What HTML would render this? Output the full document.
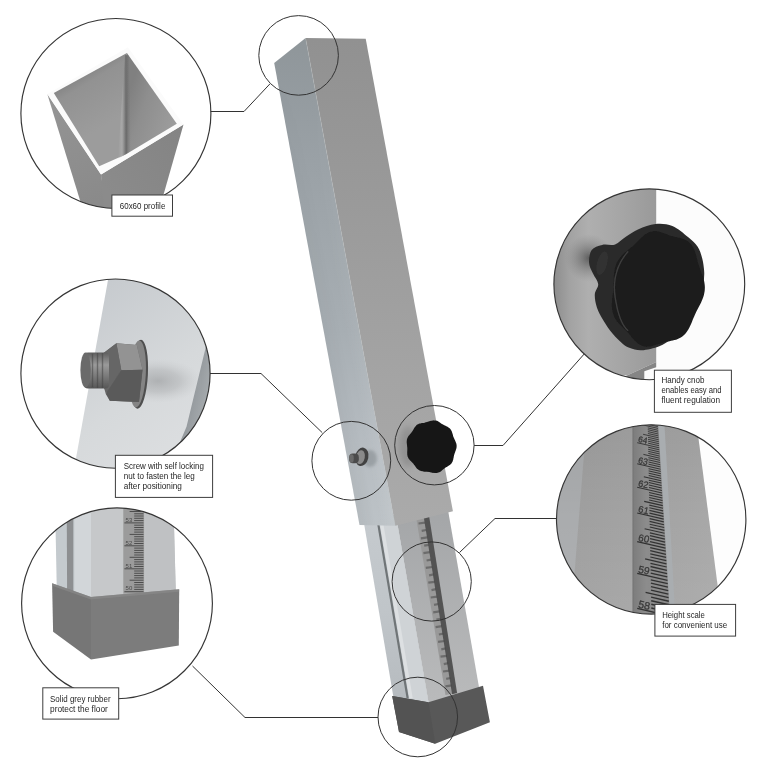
<!DOCTYPE html>
<html><head><meta charset="utf-8"><title>Adjustable leg</title>
<style>
html,body{margin:0;padding:0;background:#fff;}
body{width:768px;height:768px;overflow:hidden;font-family:"Liberation Sans",sans-serif;}
svg{display:block;}
text{font-family:"Liberation Sans",sans-serif;}
</style></head><body>
<svg width="768" height="768" viewBox="0 0 768 768">
<defs>
<linearGradient id="gLeft" gradientUnits="userSpaceOnUse" x1="0" y1="40" x2="0" y2="525">
  <stop offset="0" stop-color="#8f969a"/><stop offset="0.25" stop-color="#9aa1a6"/>
  <stop offset="0.6" stop-color="#a7aeb3"/><stop offset="0.85" stop-color="#b7bdc2"/><stop offset="1" stop-color="#bcc2c6"/>
</linearGradient>
<linearGradient id="gFront" gradientUnits="userSpaceOnUse" x1="0" y1="40" x2="0" y2="525">
  <stop offset="0" stop-color="#919191"/><stop offset="0.3" stop-color="#999999"/>
  <stop offset="0.7" stop-color="#a4a4a4"/><stop offset="1" stop-color="#aaaaaa"/>
</linearGradient>
<linearGradient id="gILeft" gradientUnits="userSpaceOnUse" x1="0" y1="520" x2="0" y2="700">
  <stop offset="0" stop-color="#c5cace"/><stop offset="0.5" stop-color="#c0c5c9"/><stop offset="1" stop-color="#b6bbbf"/>
</linearGradient>
<linearGradient id="gIFront" gradientUnits="userSpaceOnUse" x1="0" y1="510" x2="0" y2="700">
  <stop offset="0" stop-color="#a4a6a8"/><stop offset="1" stop-color="#b9babb"/>
</linearGradient>
<linearGradient id="gLeftX" gradientUnits="userSpaceOnUse" x1="0" y1="0" x2="37" y2="0" gradientTransform="matrix(1 0 0.1846 1 262.59 0)">
 <stop offset="0" stop-color="#000" stop-opacity="0.04"/><stop offset="0.45" stop-color="#000" stop-opacity="0.0"/><stop offset="0.55" stop-color="#fff" stop-opacity="0.0"/><stop offset="1" stop-color="#fff" stop-opacity="0.10"/></linearGradient>
<linearGradient id="gLeftFade" gradientUnits="userSpaceOnUse" x1="0" y1="60" x2="0" y2="520">
 <stop offset="0" stop-color="#fff" stop-opacity="0"/><stop offset="0.4" stop-color="#fff" stop-opacity="0.4"/><stop offset="1" stop-color="#fff" stop-opacity="1"/></linearGradient>
<mask id="mLeft"><rect x="250" y="30" width="200" height="520" fill="url(#gLeftFade)"/></mask><clipPath id="c1"><circle cx="115.9" cy="113.5" r="95.0"/></clipPath><clipPath id="c2"><circle cx="115.5" cy="373.6" r="94.6"/></clipPath><clipPath id="c3"><circle cx="117.0" cy="603.3" r="95.4"/></clipPath><clipPath id="c4"><circle cx="649.3" cy="284.3" r="95.4"/></clipPath><clipPath id="c5"><circle cx="651.2" cy="519.4" r="94.7"/></clipPath>
<linearGradient id="p1a" gradientUnits="userSpaceOnUse" x1="78" y1="66" x2="112" y2="122">
 <stop offset="0" stop-color="#7a7a7a"/><stop offset="0.3" stop-color="#929292"/><stop offset="1" stop-color="#9c9c9c"/></linearGradient>
<linearGradient id="p1b" gradientUnits="userSpaceOnUse" x1="126" y1="100" x2="176" y2="118">
 <stop offset="0" stop-color="#808080"/><stop offset="0.35" stop-color="#8e8e8e"/><stop offset="1" stop-color="#9c9c9c"/></linearGradient>
<linearGradient id="p1c" gradientUnits="userSpaceOnUse" x1="60" y1="110" x2="100" y2="200">
 <stop offset="0" stop-color="#939393"/><stop offset="1" stop-color="#8a8a8a"/></linearGradient>
<linearGradient id="p1d" gradientUnits="userSpaceOnUse" x1="100" y1="180" x2="180" y2="130">
 <stop offset="0" stop-color="#8b8b8b"/><stop offset="1" stop-color="#848484"/></linearGradient>
<linearGradient id="p1cr" gradientUnits="userSpaceOnUse" x1="118" y1="0" x2="131" y2="0">
 <stop offset="0" stop-color="#b0b0b0" stop-opacity="0"/><stop offset="0.3" stop-color="#adadad" stop-opacity="0.7"/><stop offset="0.62" stop-color="#666" stop-opacity="0.95"/><stop offset="1" stop-color="#808080" stop-opacity="0"/></linearGradient>

<linearGradient id="s2a" gradientUnits="userSpaceOnUse" x1="90" y1="290" x2="200" y2="440">
 <stop offset="0" stop-color="#c6cace"/><stop offset="0.6" stop-color="#d6d9db"/><stop offset="1" stop-color="#dcdee0"/></linearGradient>
<radialGradient id="s2sh" gradientUnits="userSpaceOnUse" cx="158" cy="381" r="44" gradientTransform="translate(158 381) scale(1 0.5) translate(-158 -381)">
 <stop offset="0" stop-color="#8e9092" stop-opacity="0.55"/><stop offset="0.5" stop-color="#a0a2a4" stop-opacity="0.38"/><stop offset="1" stop-color="#c0c2c4" stop-opacity="0"/></radialGradient>
<linearGradient id="s2st" gradientUnits="userSpaceOnUse" x1="190" y1="390" x2="212" y2="395">
 <stop offset="0" stop-color="#91969a"/><stop offset="1" stop-color="#a9aeb1"/></linearGradient>
<linearGradient id="s2th" gradientUnits="userSpaceOnUse" x1="0" y1="352" x2="0" y2="389">
 <stop offset="0" stop-color="#5c5c5c"/><stop offset="0.35" stop-color="#9a9a9a"/><stop offset="1" stop-color="#555"/></linearGradient>

<linearGradient id="k4" gradientUnits="userSpaceOnUse" x1="553" y1="0" x2="657" y2="0">
 <stop offset="0" stop-color="#8c8c8c"/><stop offset="0.16" stop-color="#a2a2a2"/><stop offset="0.34" stop-color="#afafaf"/>
 <stop offset="0.7" stop-color="#a4a4a4"/><stop offset="1" stop-color="#999999"/></linearGradient>
<radialGradient id="k4sh" gradientUnits="userSpaceOnUse" cx="589" cy="258" r="24">
 <stop offset="0" stop-color="#4a4a4a" stop-opacity="0.8"/><stop offset="1" stop-color="#808080" stop-opacity="0"/></radialGradient>

<linearGradient id="s5" gradientUnits="userSpaceOnUse" x1="556" y1="0" x2="720" y2="0">
 <stop offset="0" stop-color="#9e9e9e"/><stop offset="0.45" stop-color="#a3a3a3"/><stop offset="0.75" stop-color="#a5a5a5"/><stop offset="1" stop-color="#a9a9a9"/></linearGradient>
<linearGradient id="s5v" gradientUnits="userSpaceOnUse" x1="0" y1="424" x2="0" y2="614">
 <stop offset="0" stop-color="#000" stop-opacity="0.05"/><stop offset="0.5" stop-color="#000" stop-opacity="0"/><stop offset="0.5" stop-color="#fff" stop-opacity="0"/><stop offset="1" stop-color="#fff" stop-opacity="0.06"/></linearGradient>
<linearGradient id="s5s" gradientUnits="userSpaceOnUse" x1="632" y1="0" x2="668" y2="0">
 <stop offset="0" stop-color="#6c6c6c"/><stop offset="0.06" stop-color="#7e7e7e"/><stop offset="0.4" stop-color="#8c8c8c"/><stop offset="1" stop-color="#8a8a8a"/></linearGradient>
<filter id="b2" x="-50%" y="-50%" width="200%" height="200%"><feGaussianBlur stdDeviation="1.6"/></filter>
<filter id="b3" x="-50%" y="-50%" width="200%" height="200%"><feGaussianBlur stdDeviation="3"/></filter>
<filter id="soft" x="-2%" y="-2%" width="104%" height="104%"><feGaussianBlur stdDeviation="0.45"/></filter>
</defs>
<rect width="768" height="768" fill="#ffffff"/>
<g filter="url(#soft)">
<polygon points="362.6,515.0 395.9,515.0 428.6,703.0 393.4,697.0" fill="url(#gILeft)"/>
<polygon points="394.1,505.0 447.1,505.0 479.5,690.0 428.6,703.0" fill="url(#gIFront)"/>
<polygon points="378.9,520.0 396.7,520.0 428.6,703.0 409.1,699.0" fill="#cfd3d6"/>
<polygon points="379.3,520.0 382.7,520.0 412.7,698.0 409.3,698.0" fill="#dde0e2"/>
<polygon points="376.5,520.0 378.7,520.0 408.7,698.0 406.5,698.0" fill="#6f7477"/>
<polygon points="415.7,515.0 428.2,513.0 456.5,693.0 445.5,695.0" fill="#999"/>
<path d="M418.5,523.5L425.0,522.6M421.7,530.9L426.2,530.0M420.9,538.3L427.4,537.4M424.2,545.7L428.7,544.8M423.4,553.1L429.9,552.2M426.6,560.5L431.1,559.6M425.8,567.9L432.3,567.0M429.1,575.3L433.6,574.4M428.3,582.7L434.8,581.8M431.5,590.1L436.0,589.2M430.7,597.5L437.2,596.6M434.0,604.9L438.5,604.0M433.2,612.3L439.7,611.4M436.4,619.7L440.9,618.8M435.6,627.1L442.1,626.2M438.9,634.5L443.4,633.6M438.1,641.9L444.6,641.0M441.3,649.3L445.8,648.4M440.5,656.7L447.0,655.8M443.8,664.1L448.3,663.2M443.0,671.5L449.5,670.6M446.2,678.9L450.7,678.0M445.4,686.3L451.9,685.4" stroke="#5e5e5e" stroke-width="2.2" fill="none" opacity="0.75"/>
<polygon points="423.3,514.2 428.6,513.0 457.1,693.0 452.1,694.2" fill="#474747" opacity="0.85"/>
<polygon points="274.2,62.9 305.6,38.0 395.3,525.8 359.5,524.9" fill="url(#gLeft)"/>
<polygon points="305.6,38.0 365.7,38.8 452.9,511.3 395.3,525.8" fill="url(#gFront)"/>
<polygon points="274.2,62.9 305.6,38.0 395.3,525.8 359.5,524.9" fill="url(#gLeftX)" mask="url(#mLeft)"/>
<line x1="305.6" y1="38" x2="395.3" y2="525.8" stroke="#b4babd" stroke-width="0.8" opacity="0.35"/>
<polygon points="392.2,696.0 428.4,702.2 483.0,685.8 489.9,722.3 435.2,743.8 399.0,732.0" fill="#585858"/>
<polygon points="392.2,696.0 428.4,702.2 435.2,743.8 399.0,732.0" fill="#525252"/>
<ellipse cx="408" cy="447" rx="9" ry="20" fill="#777" opacity="0.45" filter="url(#b3)"/>
<polygon points="454.4,446.9 454.3,447.8 454.1,448.7 453.8,449.6 453.5,450.5 453.2,451.3 452.9,452.1 452.5,452.9 452.3,453.8 452.0,454.6 451.8,455.4 451.6,456.3 451.4,457.2 451.3,458.1 451.1,458.9 450.9,459.8 450.6,460.7 450.2,461.6 449.8,462.4 449.3,463.1 448.7,463.8 448.1,464.4 447.4,464.9 446.7,465.4 446.0,465.9 445.2,466.3 444.5,466.7 443.7,467.1 443.0,467.5 442.4,468.0 441.7,468.5 441.0,469.0 440.4,469.6 439.7,470.1 439.1,470.7 438.4,471.2 437.6,471.7 436.9,472.1 436.1,472.4 435.2,472.6 434.4,472.8 433.6,472.8 432.7,472.7 431.9,472.6 431.0,472.4 430.2,472.2 429.4,472.0 428.6,471.8 427.8,471.7 427.0,471.5 426.2,471.5 425.4,471.4 424.6,471.4 423.7,471.4 422.9,471.3 422.0,471.2 421.2,471.1 420.4,470.8 419.6,470.5 418.8,470.1 418.1,469.6 417.4,469.1 416.8,468.4 416.2,467.7 415.7,467.0 415.2,466.3 414.7,465.6 414.2,464.9 413.7,464.2 413.2,463.6 412.6,462.9 412.0,462.3 411.4,461.7 410.8,461.1 410.1,460.5 409.5,459.8 409.0,459.1 408.5,458.4 408.1,457.6 407.7,456.8 407.5,455.9 407.3,455.0 407.2,454.1 407.2,453.1 407.2,452.2 407.2,451.3 407.3,450.4 407.3,449.5 407.3,448.6 407.3,447.8 407.2,446.9 407.1,446.0 407.0,445.1 406.9,444.2 406.8,443.3 406.7,442.4 406.7,441.5 406.8,440.6 406.9,439.7 407.1,438.8 407.5,437.9 407.9,437.1 408.3,436.3 408.9,435.6 409.4,434.9 410.0,434.2 410.6,433.6 411.1,432.9 411.6,432.3 412.1,431.6 412.6,430.9 413.0,430.1 413.5,429.4 413.9,428.6 414.4,427.8 414.9,427.1 415.4,426.4 416.0,425.7 416.6,425.1 417.3,424.6 418.1,424.2 418.9,423.8 419.7,423.6 420.5,423.4 421.4,423.2 422.2,423.1 423.0,423.0 423.9,422.9 424.6,422.7 425.4,422.6 426.2,422.3 427.0,422.1 427.8,421.8 428.6,421.5 429.4,421.3 430.2,421.0 431.0,420.8 431.9,420.7 432.7,420.7 433.6,420.8 434.4,421.0 435.2,421.3 436.0,421.7 436.7,422.1 437.5,422.6 438.2,423.1 438.9,423.6 439.6,424.1 440.3,424.5 441.0,424.9 441.7,425.3 442.4,425.6 443.2,426.0 444.0,426.3 444.8,426.7 445.5,427.1 446.3,427.5 447.0,428.0 447.6,428.6 448.2,429.3 448.7,430.0 449.2,430.8 449.6,431.6 449.9,432.5 450.2,433.4 450.4,434.2 450.7,435.1 450.9,435.9 451.2,436.8 451.5,437.6 451.8,438.4 452.2,439.2 452.6,439.9 453.0,440.7 453.3,441.6 453.7,442.4 454.0,443.3 454.2,444.2 454.4,445.1 454.4,446.0" fill="#181818"/>
<polygon points="456.6,446.9 456.5,447.8 456.3,448.7 456.0,449.6 455.7,450.5 455.4,451.3 455.1,452.2 454.8,453.0 454.5,453.8 454.2,454.7 454.0,455.5 453.8,456.4 453.7,457.2 453.5,458.1 453.3,459.0 453.1,459.9 452.8,460.8 452.5,461.7 452.0,462.5 451.6,463.2 451.0,463.9 450.4,464.5 449.7,465.1 449.0,465.6 448.2,466.0 447.5,466.4 446.7,466.9 446.0,467.3 445.3,467.7 444.7,468.2 444.0,468.7 443.4,469.2 442.7,469.8 442.1,470.3 441.4,470.9 440.7,471.4 440.0,471.9 439.2,472.3 438.4,472.6 437.6,472.8 436.8,473.0 435.9,473.0 435.1,472.9 434.2,472.8 433.4,472.6 432.6,472.4 431.8,472.2 431.0,472.0 430.2,471.9 429.4,471.7 428.6,471.7 427.8,471.6 427.0,471.6 426.2,471.5 425.4,471.5 424.5,471.4 423.7,471.3 422.9,471.0 422.1,470.7 421.3,470.3 420.6,469.8 419.9,469.2 419.3,468.6 418.8,467.9 418.2,467.2 417.7,466.4 417.2,465.7 416.7,465.0 416.2,464.3 415.7,463.7 415.1,463.1 414.6,462.4 413.9,461.8 413.3,461.2 412.7,460.6 412.1,459.9 411.6,459.2 411.1,458.5 410.6,457.7 410.3,456.8 410.0,456.0 409.9,455.0 409.8,454.1 409.8,453.2 409.8,452.3 409.8,451.3 409.9,450.4 409.9,449.5 409.9,448.7 409.9,447.8 409.8,446.9 409.7,446.0 409.6,445.1 409.5,444.2 409.4,443.3 409.3,442.4 409.3,441.4 409.4,440.5 409.5,439.6 409.7,438.7 410.0,437.8 410.4,437.0 410.9,436.3 411.4,435.5 412.0,434.8 412.6,434.1 413.1,433.5 413.7,432.8 414.2,432.1 414.7,431.5 415.1,430.7 415.6,430.0 416.0,429.2 416.4,428.5 416.9,427.7 417.4,426.9 417.9,426.2 418.5,425.5 419.2,424.9 419.9,424.4 420.6,424.0 421.4,423.6 422.2,423.4 423.0,423.2 423.9,423.0 424.7,422.9 425.5,422.8 426.3,422.7 427.1,422.5 427.9,422.4 428.6,422.1 429.4,421.9 430.2,421.6 431.0,421.3 431.8,421.1 432.6,420.8 433.4,420.6 434.3,420.5 435.1,420.5 435.9,420.6 436.8,420.8 437.6,421.1 438.3,421.5 439.1,421.9 439.8,422.4 440.5,422.9 441.2,423.4 441.9,423.9 442.6,424.3 443.3,424.8 444.0,425.1 444.7,425.5 445.5,425.8 446.3,426.2 447.0,426.5 447.8,426.9 448.5,427.4 449.2,427.9 449.9,428.5 450.5,429.2 451.0,429.9 451.4,430.7 451.8,431.5 452.1,432.4 452.4,433.3 452.6,434.1 452.9,435.0 453.1,435.9 453.4,436.7 453.7,437.5 454.0,438.3 454.4,439.1 454.8,439.9 455.2,440.7 455.5,441.5 455.9,442.4 456.2,443.2 456.4,444.1 456.6,445.1 456.6,446.0" fill="#161616"/>
<ellipse cx="370" cy="458.5" rx="7" ry="8.5" fill="#82888c" opacity="0.55" filter="url(#b2)"/>
<ellipse cx="361.8" cy="456.8" rx="6.6" ry="9.3" fill="#424242" transform="rotate(12 361.8 456.8)"/>
<ellipse cx="360.4" cy="457.2" rx="4.4" ry="7.0" fill="#8a8a8a" transform="rotate(12 360.4 457.2)"/>
<rect x="349.2" y="453.6" width="9.6" height="9.6" rx="3.6" fill="#4b4b4b"/>
<ellipse cx="351.6" cy="458.4" rx="2.2" ry="4.2" fill="#6a6a6a"/>
<g clip-path="url(#c1)">
<polygon points="47.3,94.0 101.0,174.6 107.4,216.8 85.1,216.8" fill="url(#p1c)"/>
<polygon points="101.0,174.6 183.5,124.5 157.3,216.5 104.5,216.8" fill="url(#p1d)"/>
<polygon points="127.9,47.2 47.3,94.0 101.0,174.6 183.5,124.5" fill="#fbfbfb"/>
<polygon points="126.9,53.0 53.8,92.9 99.2,166.2 125.6,154.6" fill="url(#p1a)"/>
<polygon points="126.9,53.0 125.6,154.6 176.8,123.7" fill="url(#p1b)"/>
<polygon points="124.9,55.0 128.9,55.5 131.5,150.8 118.0,158.8" fill="url(#p1cr)"/>
</g>
<g clip-path="url(#c2)">
<polygon points="108.9,275.0 230.0,275.0 230.0,475.0 73.0,475.0" fill="url(#s2a)"/>
<polygon points="207.5,338.0 230.0,338.0 230.0,475.0 166.0,475.0 176.0,451.6 186.5,426.7 205.2,349.6" fill="url(#s2st)"/>
<ellipse cx="160" cy="381" rx="46" ry="24" fill="url(#s2sh)"/>
<ellipse cx="139.3" cy="374.3" rx="8.6" ry="34.5" fill="#4f4f4f" transform="rotate(3 139.3 374.3)"/>
<ellipse cx="137.6" cy="374.0" rx="8.2" ry="33.5" fill="#848484" transform="rotate(3 137.6 374.0)"/>
<polygon points="102.0,354.3 116.4,343.2 136.8,345.0 142.5,369.8 139.0,401.9 109.8,400.7 103.1,385.3" fill="#5f5f5f"/>
<polygon points="116.4,343.2 136.8,345.0 142.5,369.8 121.3,370.2" fill="#939393"/>
<polygon points="102.0,354.3 116.4,343.2 121.3,370.2 105.8,394.1 102.7,383.0" fill="#666"/>
<polygon points="105.8,394.1 121.3,370.2 142.5,369.8 139.0,401.9 109.8,400.7" fill="#5a5a5a"/>
<rect x="84" y="352.5" width="25" height="36" rx="4" fill="url(#s2th)"/>
<ellipse cx="85.6" cy="370" rx="5.2" ry="17.6" fill="#6b6b6b"/>
<path d="M92.5,353.5v34M97.5,353v35M102.5,353v35" stroke="#444" stroke-width="1.4" opacity="0.55"/>
</g>
<g clip-path="url(#c3)">
<polygon points="55.0,500.0 91.0,500.0 91.0,597.9 56.7,585.4" fill="#c4cace"/>
<polygon points="74.4,500.0 91.0,500.0 91.0,597.9 74.4,591.7" fill="#d2d6d9"/>
<polygon points="66.7,500.0 73.3,500.0 73.3,591.7 67.1,589.2" fill="#8d8f91"/>
<polygon points="91.0,500.0 173.3,500.0 175.8,591.7 91.0,597.9" fill="#c6c8ca"/>
<polygon points="145.2,500.0 173.3,500.0 175.8,591.7 145.2,592.7" fill="#bfc1c3"/>
<polygon points="123.3,500.0 144.2,500.0 144.2,592.7 123.3,593.8" fill="#9b9b9b"/>
<path d="M124.4,500.0L143.5,500.0M134.2,502.3L143.5,502.3M134.2,504.6L143.5,504.6M134.2,506.9L143.5,506.9M134.2,509.2L143.5,509.2M129.6,511.5L143.5,511.5M134.2,513.8L143.5,513.8M134.2,516.0L143.5,516.0M134.2,518.3L143.5,518.3M134.2,520.6L143.5,520.6M124.4,522.9L143.5,522.9M134.2,525.2L143.5,525.2M134.2,527.5L143.5,527.5M134.2,529.8L143.5,529.8M134.2,532.1L143.5,532.1M129.6,534.4L143.5,534.4M134.2,536.7L143.5,536.7M134.2,539.0L143.5,539.0M134.2,541.2L143.5,541.2M134.2,543.5L143.5,543.5M124.4,545.8L143.5,545.8M134.2,548.1L143.5,548.1M134.2,550.4L143.5,550.4M134.2,552.7L143.5,552.7M134.2,555.0L143.5,555.0M129.6,557.3L143.5,557.3M134.2,559.6L143.5,559.6M134.2,561.9L143.5,561.9M134.2,564.2L143.5,564.2M134.2,566.5L143.5,566.5M124.4,568.8L143.5,568.8M134.2,571.0L143.5,571.0M134.2,573.3L143.5,573.3M134.2,575.6L143.5,575.6M134.2,577.9L143.5,577.9M129.6,580.2L143.5,580.2M134.2,582.5L143.5,582.5M134.2,584.8L143.5,584.8M134.2,587.1L143.5,587.1M134.2,589.4L143.5,589.4M124.4,591.7L143.5,591.7" stroke="#3a3a3a" stroke-width="1" opacity="0.8"/>
<text x="125.6" y="521.7" font-size="6" fill="#3a3a3a" opacity="0.85">53</text>
<text x="125.6" y="544.6" font-size="6" fill="#3a3a3a" opacity="0.85">52</text>
<text x="125.6" y="567.5" font-size="6" fill="#3a3a3a" opacity="0.85">51</text>
<text x="125.6" y="590.4" font-size="6" fill="#3a3a3a" opacity="0.85">50</text>
<polygon points="52.1,583.3 91.0,596.9 91.0,659.4 53.1,631.7" fill="#767676"/>
<polygon points="91.0,596.9 179.2,589.2 178.8,645.4 91.0,659.4" fill="#7b7b7b"/>
<polygon points="52.1,583.3 91.0,596.9 179.2,589.2 179.2,591.7 91.0,599.6 52.1,585.8" fill="#8c8c8c" opacity="0.6"/>
</g>
<g clip-path="url(#c4)">
<rect x="550" y="185" width="200" height="200" fill="#fcfcfc"/>
<polygon points="550.0,185.0 656.2,185.0 656.2,362.1 628.1,375.1 550.0,382.9" fill="url(#k4)"/>
<polygon points="628.1,375.1 656.2,362.1 656.2,367.3 644.3,371.2 644.3,385.0 602.1,385.0" fill="#858585"/>
<circle cx="589" cy="258" r="24" fill="url(#k4sh)"/>
<path d="M655.5,224.1C661.1,223.5 667.0,224.0 672.4,226.1C677.8,228.3 683.8,233.7 688.0,237.1C692.2,240.5 695.1,242.9 697.5,246.5C699.9,250.1 701.2,254.4 702.3,258.7C703.4,262.9 704.0,268.0 704.2,272.0C704.4,276.0 704.0,279.3 703.4,282.5C702.8,285.7 701.7,287.3 700.3,291.1C698.9,294.9 696.8,300.9 695.0,305.2C693.2,309.5 692.0,313.0 689.8,316.9C687.6,320.8 684.7,324.9 681.6,328.6C678.5,332.3 674.7,336.3 671.0,339.2C667.3,342.1 664.2,344.3 659.3,346.2C654.4,348.1 646.6,350.0 641.7,350.3C636.8,350.6 633.1,349.1 630.0,348.0C626.9,346.9 625.8,346.3 622.9,343.9C620.0,341.4 615.8,337.3 612.5,333.4C609.2,329.5 606.0,324.8 603.4,320.4C600.8,316.1 598.3,311.7 596.9,307.4C595.4,303.1 594.6,298.3 594.8,294.4C595.0,290.5 598.5,287.4 598.2,284.0C597.9,280.5 594.5,277.0 593.0,273.5C591.4,270.1 589.3,267.0 589.1,263.1C588.8,259.2 589.5,253.1 591.7,250.1C593.8,247.1 598.2,245.9 602.1,244.9C606.0,243.9 611.2,245.7 615.1,244.4C619.0,243.1 621.6,239.6 625.5,237.1C629.4,234.6 633.6,231.4 638.5,229.3C643.5,227.1 649.8,224.6 655.5,224.1Z" fill="#2a2a2a"/>
<polygon points="704.0,289.0 703.6,291.0 703.2,293.0 702.7,294.9 702.1,296.8 701.5,298.7 700.9,300.6 700.3,302.4 699.8,304.2 699.3,306.0 698.8,307.8 698.4,309.7 697.9,311.6 697.5,313.5 697.1,315.4 696.7,317.4 696.2,319.3 695.7,321.2 695.0,323.2 694.3,325.0 693.4,326.8 692.5,328.4 691.4,330.0 690.2,331.4 688.9,332.7 687.5,333.8 686.1,334.8 684.6,335.7 683.0,336.4 681.5,337.1 680.0,337.7 678.4,338.3 676.9,338.9 675.4,339.4 674.0,340.0 672.5,340.7 671.1,341.4 669.7,342.1 668.2,342.9 666.8,343.7 665.3,344.5 663.8,345.3 662.3,346.0 660.7,346.7 659.1,347.2 657.5,347.6 655.9,347.8 654.2,347.8 652.6,347.7 651.0,347.3 649.4,346.8 647.8,346.1 646.3,345.3 644.8,344.3 643.4,343.3 642.0,342.2 640.7,341.1 639.4,339.9 638.1,338.8 636.8,337.7 635.5,336.7 634.2,335.7 632.9,334.7 631.5,333.8 630.1,332.9 628.7,331.9 627.3,331.0 625.9,330.0 624.5,328.9 623.1,327.8 621.8,326.5 620.6,325.1 619.5,323.6 618.5,322.0 617.6,320.3 616.8,318.4 616.2,316.5 615.7,314.6 615.3,312.5 615.0,310.5 614.8,308.5 614.6,306.4 614.5,304.4 614.4,302.5 614.3,300.5 614.2,298.6 614.0,296.7 613.8,294.8 613.6,292.8 613.3,290.9 613.0,289.0 612.7,287.0 612.4,285.0 612.2,283.0 612.0,281.0 611.9,278.9 611.9,276.9 612.0,274.8 612.3,272.8 612.7,270.8 613.3,268.8 614.0,267.0 614.8,265.2 615.8,263.5 616.8,261.9 617.9,260.4 619.0,258.9 620.2,257.5 621.4,256.1 622.6,254.8 623.7,253.5 624.8,252.2 625.9,250.8 627.0,249.4 628.0,248.0 629.0,246.5 630.0,245.0 631.1,243.4 632.2,241.9 633.3,240.4 634.5,239.0 635.7,237.6 637.0,236.4 638.4,235.3 639.9,234.3 641.4,233.6 643.0,233.0 644.6,232.5 646.2,232.3 647.9,232.2 649.5,232.2 651.2,232.4 652.8,232.6 654.4,232.9 655.9,233.3 657.5,233.6 659.0,233.8 660.6,234.1 662.1,234.3 663.6,234.4 665.2,234.5 666.7,234.6 668.3,234.7 669.9,234.8 671.5,234.9 673.2,235.1 674.8,235.4 676.4,235.8 678.0,236.3 679.6,237.0 681.0,237.9 682.5,239.0 683.8,240.2 685.0,241.5 686.2,243.0 687.2,244.6 688.2,246.3 689.1,248.0 690.0,249.7 690.8,251.5 691.5,253.2 692.3,254.9 693.1,256.6 693.9,258.2 694.7,259.8 695.6,261.4 696.5,263.0 697.5,264.6 698.4,266.2 699.4,267.8 700.3,269.5 701.2,271.2 702.0,273.0 702.7,274.9 703.3,276.8 703.8,278.8 704.1,280.8 704.3,282.8 704.3,284.9 704.2,287.0" fill="#1d1d1d" transform="rotate(10 657.5 289)"/>
<path d="M628.1,251.4 Q611.2,270.9 615.1,297.0 T628.1,330.8" fill="none" stroke="#474747" stroke-width="1.4" opacity="0.8"/>
<ellipse cx="602.1" cy="263.1" rx="5" ry="12" fill="#343434" opacity="0.8" transform="rotate(15 602.1 263.1)"/>
</g>
<g clip-path="url(#c5)">
<rect x="550" y="420" width="200" height="200" fill="#fdfdfd"/>
<polygon points="550.0,420.0 696.1,420.0 722.1,620.0 550.0,620.0" fill="url(#s5)"/>
<polygon points="550.0,420.0 586.7,420.0 570.8,620.0 550.0,620.0" fill="#aaacae"/>
<polygon points="550.0,420.0 696.1,420.0 722.1,620.0 550.0,620.0" fill="url(#s5v)"/>
<polygon points="632.5,420.0 660.5,420.0 672.5,620.0 632.5,620.0" fill="url(#s5s)"/>
<polygon points="658.0,420.0 664.2,420.0 675.5,620.0 670.3,620.0" fill="#a9adb0"/>
<path d="M647.7,422.5L657.7,424.8" stroke="#2b2b2b" stroke-width="0.84" opacity="0.92"/>
<path d="M647.7,424.3L657.8,426.6" stroke="#2b2b2b" stroke-width="0.84" opacity="0.92"/>
<path d="M637.2,423.6L658.0,428.4" stroke="#2b2b2b" stroke-width="0.85" opacity="0.92"/>
<path d="M647.8,427.9L658.1,430.3" stroke="#2b2b2b" stroke-width="0.85" opacity="0.92"/>
<path d="M647.8,429.7L658.2,432.1" stroke="#2b2b2b" stroke-width="0.86" opacity="0.92"/>
<path d="M647.9,431.6L658.3,434.0" stroke="#2b2b2b" stroke-width="0.87" opacity="0.92"/>
<path d="M647.9,433.5L658.4,435.9" stroke="#2b2b2b" stroke-width="0.87" opacity="0.92"/>
<path d="M643.1,434.3L658.5,437.8" stroke="#2b2b2b" stroke-width="0.88" opacity="0.92"/>
<path d="M648.0,437.3L658.7,439.8" stroke="#2b2b2b" stroke-width="0.88" opacity="0.92"/>
<path d="M648.0,439.3L658.8,441.7" stroke="#2b2b2b" stroke-width="0.89" opacity="0.92"/>
<path d="M648.1,441.2L658.9,443.7" stroke="#2b2b2b" stroke-width="0.90" opacity="0.92"/>
<path d="M648.1,443.2L659.0,445.7" stroke="#2b2b2b" stroke-width="0.90" opacity="0.92"/>
<path d="M637.2,442.7L659.2,447.8" stroke="#2b2b2b" stroke-width="0.91" opacity="0.92"/>
<path d="M648.2,447.2L659.3,449.8" stroke="#2b2b2b" stroke-width="0.92" opacity="0.92"/>
<path d="M648.2,449.3L659.4,451.9" stroke="#2b2b2b" stroke-width="0.92" opacity="0.92"/>
<path d="M648.3,451.4L659.6,453.9" stroke="#2b2b2b" stroke-width="0.93" opacity="0.92"/>
<path d="M648.3,453.4L659.7,456.1" stroke="#2b2b2b" stroke-width="0.93" opacity="0.92"/>
<path d="M643.4,454.4L659.8,458.2" stroke="#2b2b2b" stroke-width="0.94" opacity="0.92"/>
<path d="M648.4,457.7L660.0,460.3" stroke="#2b2b2b" stroke-width="0.95" opacity="0.92"/>
<path d="M648.4,459.8L660.1,462.5" stroke="#2b2b2b" stroke-width="0.95" opacity="0.92"/>
<path d="M648.5,462.0L660.2,464.7" stroke="#2b2b2b" stroke-width="0.96" opacity="0.92"/>
<path d="M648.5,464.2L660.4,466.9" stroke="#2b2b2b" stroke-width="0.97" opacity="0.92"/>
<path d="M637.2,463.8L660.5,469.2" stroke="#2b2b2b" stroke-width="0.98" opacity="0.92"/>
<path d="M648.6,468.7L660.7,471.4" stroke="#2b2b2b" stroke-width="0.98" opacity="0.92"/>
<path d="M648.7,470.9L660.8,473.7" stroke="#2b2b2b" stroke-width="0.99" opacity="0.92"/>
<path d="M648.7,473.2L660.9,476.0" stroke="#2b2b2b" stroke-width="1.00" opacity="0.92"/>
<path d="M648.7,475.5L661.1,478.4" stroke="#2b2b2b" stroke-width="1.00" opacity="0.92"/>
<path d="M643.8,476.7L661.2,480.7" stroke="#2b2b2b" stroke-width="1.01" opacity="0.92"/>
<path d="M648.8,480.2L661.4,483.1" stroke="#2b2b2b" stroke-width="1.02" opacity="0.92"/>
<path d="M648.9,482.6L661.5,485.5" stroke="#2b2b2b" stroke-width="1.03" opacity="0.92"/>
<path d="M648.9,485.0L661.7,487.9" stroke="#2b2b2b" stroke-width="1.03" opacity="0.92"/>
<path d="M649.0,487.4L661.9,490.4" stroke="#2b2b2b" stroke-width="1.04" opacity="0.92"/>
<path d="M637.2,487.2L662.0,492.9" stroke="#2b2b2b" stroke-width="1.05" opacity="0.92"/>
<path d="M649.1,492.4L662.2,495.4" stroke="#2b2b2b" stroke-width="1.06" opacity="0.92"/>
<path d="M649.1,494.9L662.3,497.9" stroke="#2b2b2b" stroke-width="1.07" opacity="0.92"/>
<path d="M649.2,497.4L662.5,500.5" stroke="#2b2b2b" stroke-width="1.07" opacity="0.92"/>
<path d="M649.2,500.0L662.6,503.0" stroke="#2b2b2b" stroke-width="1.08" opacity="0.92"/>
<path d="M644.2,501.4L662.8,505.6" stroke="#2b2b2b" stroke-width="1.09" opacity="0.92"/>
<path d="M649.3,505.1L663.0,508.3" stroke="#2b2b2b" stroke-width="1.10" opacity="0.92"/>
<path d="M649.4,507.8L663.1,510.9" stroke="#2b2b2b" stroke-width="1.11" opacity="0.92"/>
<path d="M649.4,510.4L663.3,513.6" stroke="#2b2b2b" stroke-width="1.11" opacity="0.92"/>
<path d="M649.5,513.1L663.5,516.4" stroke="#2b2b2b" stroke-width="1.12" opacity="0.92"/>
<path d="M637.2,513.0L663.7,519.1" stroke="#2b2b2b" stroke-width="1.13" opacity="0.92"/>
<path d="M649.6,518.6L663.8,521.9" stroke="#2b2b2b" stroke-width="1.14" opacity="0.92"/>
<path d="M649.6,521.4L664.0,524.7" stroke="#2b2b2b" stroke-width="1.15" opacity="0.92"/>
<path d="M649.7,524.2L664.2,527.5" stroke="#2b2b2b" stroke-width="1.16" opacity="0.92"/>
<path d="M649.8,527.0L664.4,530.4" stroke="#2b2b2b" stroke-width="1.17" opacity="0.92"/>
<path d="M644.6,528.7L664.5,533.3" stroke="#2b2b2b" stroke-width="1.18" opacity="0.92"/>
<path d="M649.9,532.8L664.7,536.2" stroke="#2b2b2b" stroke-width="1.18" opacity="0.92"/>
<path d="M649.9,535.7L664.9,539.1" stroke="#2b2b2b" stroke-width="1.19" opacity="0.92"/>
<path d="M650.0,538.6L665.1,542.1" stroke="#2b2b2b" stroke-width="1.20" opacity="0.92"/>
<path d="M650.0,541.6L665.3,545.1" stroke="#2b2b2b" stroke-width="1.21" opacity="0.92"/>
<path d="M637.2,541.6L665.5,548.1" stroke="#2b2b2b" stroke-width="1.22" opacity="0.92"/>
<path d="M650.2,547.6L665.7,551.2" stroke="#2b2b2b" stroke-width="1.23" opacity="0.92"/>
<path d="M650.2,550.7L665.9,554.3" stroke="#2b2b2b" stroke-width="1.24" opacity="0.92"/>
<path d="M650.3,553.8L666.1,557.4" stroke="#2b2b2b" stroke-width="1.25" opacity="0.92"/>
<path d="M650.3,557.0L666.3,560.6" stroke="#2b2b2b" stroke-width="1.26" opacity="0.92"/>
<path d="M645.1,558.9L666.5,563.8" stroke="#2b2b2b" stroke-width="1.27" opacity="0.92"/>
<path d="M650.5,563.3L666.7,567.0" stroke="#2b2b2b" stroke-width="1.28" opacity="0.92"/>
<path d="M650.5,566.5L666.9,570.3" stroke="#2b2b2b" stroke-width="1.29" opacity="0.92"/>
<path d="M650.6,569.8L667.1,573.6" stroke="#2b2b2b" stroke-width="1.30" opacity="0.92"/>
<path d="M650.7,573.1L667.3,576.9" stroke="#2b2b2b" stroke-width="1.31" opacity="0.92"/>
<path d="M637.2,573.3L667.5,580.3" stroke="#2b2b2b" stroke-width="1.32" opacity="0.92"/>
<path d="M650.8,579.8L667.7,583.7" stroke="#2b2b2b" stroke-width="1.33" opacity="0.92"/>
<path d="M650.9,583.2L667.9,587.1" stroke="#2b2b2b" stroke-width="1.34" opacity="0.92"/>
<path d="M650.9,586.6L668.2,590.6" stroke="#2b2b2b" stroke-width="1.35" opacity="0.92"/>
<path d="M651.0,590.1L668.4,594.1" stroke="#2b2b2b" stroke-width="1.36" opacity="0.92"/>
<path d="M645.6,592.4L668.6,597.6" stroke="#2b2b2b" stroke-width="1.38" opacity="0.92"/>
<path d="M651.1,597.1L668.8,601.2" stroke="#2b2b2b" stroke-width="1.39" opacity="0.92"/>
<path d="M651.2,600.7L669.0,604.8" stroke="#2b2b2b" stroke-width="1.40" opacity="0.92"/>
<path d="M651.3,604.3L669.3,608.5" stroke="#2b2b2b" stroke-width="1.41" opacity="0.92"/>
<path d="M651.3,608.0L669.5,612.2" stroke="#2b2b2b" stroke-width="1.42" opacity="0.92"/>
<path d="M637.2,608.4L669.7,615.9" stroke="#2b2b2b" stroke-width="1.43" opacity="0.92"/>
<path d="M651.5,615.4L670.0,619.6" stroke="#2b2b2b" stroke-width="1.44" opacity="0.92"/>
<path d="M651.6,619.2L670.2,623.4" stroke="#2b2b2b" stroke-width="1.46" opacity="0.92"/>
<path d="M651.6,623.0L670.5,627.3" stroke="#2b2b2b" stroke-width="1.47" opacity="0.92"/>
<text x="637.8" y="441.8" font-size="8.3" fill="#2e2e2e" stroke="#2e2e2e" stroke-width="0.25" opacity="0.9" transform="rotate(12 637.8 441.8)">64</text>
<text x="637.8" y="462.9" font-size="8.7" fill="#2e2e2e" stroke="#2e2e2e" stroke-width="0.25" opacity="0.9" transform="rotate(12 637.8 462.9)">63</text>
<text x="637.8" y="486.3" font-size="9.1" fill="#2e2e2e" stroke="#2e2e2e" stroke-width="0.25" opacity="0.9" transform="rotate(12 637.8 486.3)">62</text>
<text x="637.8" y="512.1" font-size="9.4" fill="#2e2e2e" stroke="#2e2e2e" stroke-width="0.25" opacity="0.9" transform="rotate(12 637.8 512.1)">61</text>
<text x="637.8" y="540.7" font-size="9.8" fill="#2e2e2e" stroke="#2e2e2e" stroke-width="0.25" opacity="0.9" transform="rotate(12 637.8 540.7)">60</text>
<text x="637.8" y="572.4" font-size="10.2" fill="#2e2e2e" stroke="#2e2e2e" stroke-width="0.25" opacity="0.9" transform="rotate(12 637.8 572.4)">59</text>
<text x="637.8" y="607.5" font-size="10.6" fill="#2e2e2e" stroke="#2e2e2e" stroke-width="0.25" opacity="0.9" transform="rotate(12 637.8 607.5)">58</text>
</g>
<circle cx="115.9" cy="113.5" r="95.0" fill="none" stroke="#353535" stroke-width="1.15"/>
<circle cx="115.5" cy="373.6" r="94.6" fill="none" stroke="#353535" stroke-width="1.15"/>
<circle cx="117.0" cy="603.3" r="95.4" fill="none" stroke="#353535" stroke-width="1.15"/>
<circle cx="649.3" cy="284.3" r="95.4" fill="none" stroke="#353535" stroke-width="1.15"/>
<circle cx="651.2" cy="519.4" r="94.7" fill="none" stroke="#353535" stroke-width="1.15"/>
<circle cx="298.6" cy="55.4" r="39.8" fill="none" stroke="#333" stroke-width="1"/>
<circle cx="351.3" cy="460.8" r="39.4" fill="none" stroke="#333" stroke-width="1"/>
<circle cx="434.4" cy="445.2" r="39.7" fill="none" stroke="#333" stroke-width="1"/>
<circle cx="431.7" cy="581.5" r="39.6" fill="none" stroke="#333" stroke-width="1"/>
<circle cx="417.8" cy="717.0" r="39.8" fill="none" stroke="#333" stroke-width="1"/>
<polyline points="210.7,111.5 244.0,111.5 270.0,83.8" fill="none" stroke="#333" stroke-width="1"/>
<polyline points="210.0,373.5 261.0,373.5 322.2,432.6" fill="none" stroke="#333" stroke-width="1"/>
<polyline points="192.5,666.0 245.0,717.5 378.0,717.5" fill="none" stroke="#333" stroke-width="1"/>
<polyline points="474.1,445.5 503.0,445.5 584.2,354.0" fill="none" stroke="#333" stroke-width="1"/>
<polyline points="459.5,552.5 495.0,518.5 556.5,518.5" fill="none" stroke="#333" stroke-width="1"/>
<rect x="111.9" y="195.0" width="60.6" height="21.2" fill="#fff" stroke="#3c3c3c" stroke-width="1"/>
<text x="119.8" y="208.9" font-size="8.8" fill="#1f1f1f" textLength="45.5" lengthAdjust="spacingAndGlyphs">60x60 profile</text>
<rect x="115.4" y="455.3" width="97.2" height="42.1" fill="#fff" stroke="#3c3c3c" stroke-width="1"/>
<text x="123.7" y="468.5" font-size="8.8" fill="#1f1f1f" textLength="80.2" lengthAdjust="spacingAndGlyphs">Screw with self locking</text>
<text x="123.7" y="478.6" font-size="8.8" fill="#1f1f1f" textLength="71.0" lengthAdjust="spacingAndGlyphs">nut to fasten the leg</text>
<text x="123.7" y="488.7" font-size="8.8" fill="#1f1f1f" textLength="58.2" lengthAdjust="spacingAndGlyphs">after positioning</text>
<rect x="42.8" y="687.8" width="75.9" height="31.3" fill="#fff" stroke="#3c3c3c" stroke-width="1"/>
<text x="50" y="701.7" font-size="8.8" fill="#1f1f1f" textLength="60.6" lengthAdjust="spacingAndGlyphs">Solid grey rubber</text>
<text x="50" y="711.6" font-size="8.8" fill="#1f1f1f" textLength="57.8" lengthAdjust="spacingAndGlyphs">protect the floor</text>
<rect x="654.4" y="370.2" width="77.0" height="42.1" fill="#fff" stroke="#3c3c3c" stroke-width="1"/>
<text x="661.4" y="383.2" font-size="8.8" fill="#1f1f1f" textLength="43.0" lengthAdjust="spacingAndGlyphs">Handy cnob</text>
<text x="661.4" y="393.2" font-size="8.8" fill="#1f1f1f" textLength="60.2" lengthAdjust="spacingAndGlyphs">enables easy and</text>
<text x="661.4" y="403.4" font-size="8.8" fill="#1f1f1f" textLength="58.6" lengthAdjust="spacingAndGlyphs">fluent regulation</text>
<rect x="654.9" y="604.4" width="80.7" height="31.7" fill="#fff" stroke="#3c3c3c" stroke-width="1"/>
<text x="662.2" y="618.2" font-size="8.8" fill="#1f1f1f" textLength="42.7" lengthAdjust="spacingAndGlyphs">Height scale</text>
<text x="662.2" y="628.1" font-size="8.8" fill="#1f1f1f" textLength="65.0" lengthAdjust="spacingAndGlyphs">for convenient use</text>
</g>
</svg>
</body></html>
